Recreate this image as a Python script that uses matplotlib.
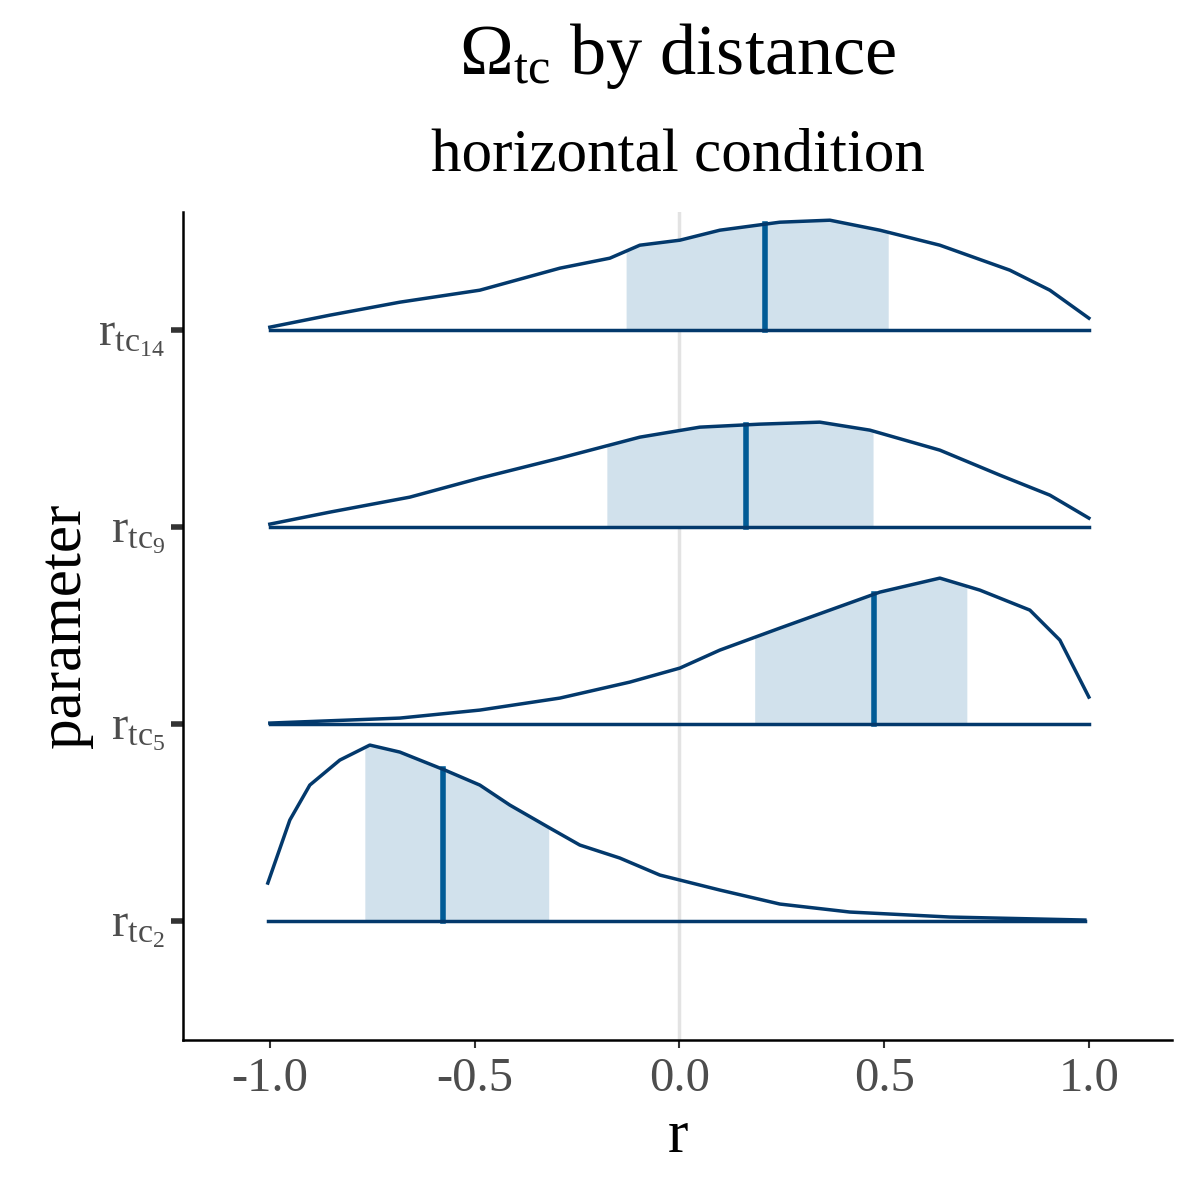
import numpy as np
import matplotlib
matplotlib.use("Agg")
import matplotlib.pyplot as plt

plt.rcParams['font.family'] = ['Liberation Serif', 'DejaVu Serif']
plt.rcParams['mathtext.fontset'] = 'custom'
plt.rcParams['mathtext.rm'] = 'Liberation Serif'
plt.rcParams['mathtext.it'] = 'Liberation Serif'

params = ["rtc2", "rtc5", "rtc9", "rtc14"]
labels = [r"$\mathrm{r_{tc_{2}}}$", r"$\mathrm{r_{tc_{5}}}$", r"$\mathrm{r_{tc_{9}}}$", r"$\mathrm{r_{tc_{14}}}$"]

x14 = [270,330,400,480,560,610,640,680,720,780,830,880,940,1010,1050,1089]
h14 = [3,15,28,40,62,72,85,90,100,108,110,100,85,60,40,12]
x9 = [270,330,410,480,560,640,700,760,820,870,940,1000,1050,1089]
h9 = [3,15,30,49,69,90,100,103,105,97,77,52,32,9]
x5 = [270,400,480,560,630,680,720,780,830,880,940,980,1030,1060,1089]
h5 = [1,6,14,26,42,56,74,96,114,132,146,134,114,84,27]
x2 = [268,290,310,340,370,400,445,480,510,550,580,620,660,720,780,850,950,1085]
h2 = [38,101,136,161,176,169,151,136,116,93,76,63,46,31,17,9,4,1]

lo = [-0.768, 0.184, -0.177, -0.13]
hi = [-0.319, 0.702, 0.473, 0.51]
med = [-0.577, 0.475, 0.163, 0.21]

def to_r(px):
    return (np.array(px, float) - 679.5) / 409.5

curves = [(to_r(x2), np.array(h2)/197), (to_r(x5), np.array(h5)/197),
          (to_r(x9), np.array(h9)/197), (to_r(x14), np.array(h14)/197)]

fig = plt.figure(figsize=(12, 12), dpi=100)
ax = fig.add_axes([183/1200, 1-1040/1200, (1172-183)/1200, (1040-212)/1200])

line_c = "#03396c"
fill_c = "#d1e1ec"
med_c = "#005b96"

ax.axvline(0, color="#e3e3e3", lw=2.5, zorder=0)
for i, (x, h) in enumerate(curves):
    base = i + 1
    grid = np.linspace(lo[i], hi[i], 200)
    ax.fill_between(grid, base, base + np.interp(grid, x, h), color=fill_c, lw=0, zorder=1)
    ax.plot([x[0], x[-1]], [base, base], color=line_c, lw=2.5, zorder=3)
    ax.plot(x, base + h, color=line_c, lw=2.5, zorder=3)
    ax.plot([med[i], med[i]], [base, base + np.interp(med[i], x, h)], color=med_c, lw=4, zorder=2)

ax.set_xlim(-1.212, 1.203)
ax.set_ylim(0.396, 4.6)
ax.set_yticks([1, 2, 3, 4])
ax.set_yticklabels(labels)
ax.set_xticks([-1, -0.5, 0, 0.5, 1])
ax.set_xticklabels(["-1.0", "-0.5", "0.0", "0.5", "1.0"])
for s in ["top", "right"]:
    ax.spines[s].set_visible(False)
for s in ["left", "bottom"]:
    ax.spines[s].set_linewidth(1.8)
ax.tick_params(axis='y', length=9, width=4, color="#333333", labelsize=35, labelcolor="#4d4d4d", pad=4)
ax.tick_params(axis='x', length=6, width=1.5, color="#333333", labelsize=35, labelcolor="#4d4d4d", pad=6)
ax.set_xlabel("r", fontsize=44, labelpad=6)
ax.set_ylabel("parameter", fontsize=44, labelpad=4)

fig.text(0.565, 0.953, r"$\mathrm{\Omega_{tc}}$ by distance", ha="center", va="center", fontsize=52)
fig.text(0.565, 0.87, "horizontal condition", ha="center", va="center", fontsize=44)

fig.savefig("out.png", dpi=100)
